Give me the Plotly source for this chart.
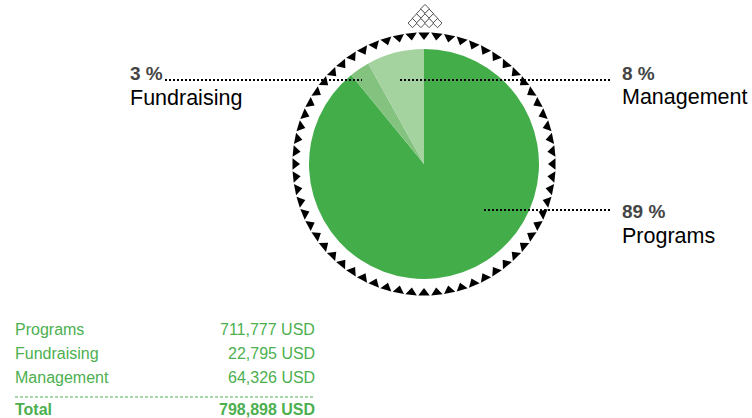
import math
import plotly.graph_objects as go

# ---- data ----
categories = ["Programs", "Fundraising", "Management"]
amounts = [711777, 22795, 64326]
slice_colors = ["#43ad4a", "#84c37f", "#a5d3a0"]
currency = "USD"

total = sum(amounts)
percents = [round(100 * v / total) for v in amounts]

# ---- layout constants (pixels) ----
W, H = 752, 418
CX, CY = 424, 164
PIE_R = 115
RING_R = 129
N_RING = 64

GREEN_TXT = "#4caf50"
BASE_FONT = "Liberation Sans, Arial, Helvetica, sans-serif"

fig = go.Figure()

# pie
fig.add_trace(go.Pie(
    labels=categories, values=amounts, sort=False, direction="clockwise",
    rotation=0, marker=dict(colors=slice_colors, line=dict(width=0)),
    textinfo="none", hoverinfo="label+value+percent", showlegend=False,
    domain=dict(x=[(CX - PIE_R) / W, (CX + PIE_R) / W],
                y=[1 - (CY + PIE_R) / H, 1 - (CY - PIE_R) / H]),
))

# decorative ring of inward-pointing triangles
rx, ry, ang = [], [], []
for i in range(N_RING):
    phi = 360.0 * i / N_RING
    t = math.radians(phi)
    rx.append(CX + RING_R * math.sin(t))
    ry.append(CY - RING_R * math.cos(t))
    ang.append(phi)
fig.add_trace(go.Scatter(
    x=rx, y=ry, mode="markers", hoverinfo="skip", showlegend=False,
    marker=dict(symbol="triangle-down", size=10, angle=ang, color="black",
                line=dict(width=0)),
))

# decorative diamond pyramid at top
dx, dy = [], []
for k in range(4):
    for j in range(k + 1):
        dx.append(CX + 1 + (j - k / 2) * 8.3)
        dy.append(9 + k * 4.7)
fig.add_trace(go.Scatter(
    x=dx, y=dy, mode="markers", hoverinfo="skip", showlegend=False,
    marker=dict(symbol="diamond", size=7, color="white",
                line=dict(width=1, color="#555555")),
))

# callout labels
callouts = {
    "Fundraising": dict(x=128, ypct=73, yname=98, ly=80, lx0=165, lx1=362),
    "Management": dict(x=620, ypct=73, yname=97, ly=80, lx0=400, lx1=612),
    "Programs": dict(x=620, ypct=211, yname=236, ly=210, lx0=484, lx1=612),
}

shapes = []
annotations = []
for cat, pct in zip(categories, percents):
    c = callouts[cat]
    shapes.append(dict(type="line", xref="x", yref="y", x0=c["lx0"], x1=c["lx1"],
                       y0=c["ly"], y1=c["ly"],
                       line=dict(color="black", width=2, dash="2px,2px")))
    annotations.append(dict(x=c["x"], y=c["ypct"], xref="x", yref="y",
                            text=f"<b>{pct} %</b>", showarrow=False,
                            xanchor="left", yanchor="middle",
                            font=dict(family=BASE_FONT, size=19, color="#454545")))
    annotations.append(dict(x=c["x"], y=c["yname"], xref="x", yref="y",
                            text=cat, showarrow=False,
                            xanchor="left", yanchor="middle",
                            font=dict(family=BASE_FONT, size=21.5, color="black")))

# table
TBL_X0, TBL_X1 = 13, 317
row_y = [329, 353, 377]
for cat, v, y in zip(categories, amounts, row_y):
    annotations.append(dict(x=TBL_X0, y=y, xref="x", yref="y", text=cat,
                            showarrow=False, xanchor="left", yanchor="middle",
                            font=dict(family=BASE_FONT, size=16, color=GREEN_TXT)))
    annotations.append(dict(x=TBL_X1, y=y, xref="x", yref="y",
                            text=f"{v:,} {currency}",
                            showarrow=False, xanchor="right", yanchor="middle",
                            font=dict(family=BASE_FONT, size=16, color=GREEN_TXT)))
shapes.append(dict(type="line", xref="x", yref="y", x0=15, x1=315,
                   y0=397, y1=397,
                   line=dict(color=GREEN_TXT, width=1, dash="3px,2px")))
annotations.append(dict(x=TBL_X0, y=409, xref="x", yref="y", text="<b>Total</b>",
                        showarrow=False, xanchor="left", yanchor="middle",
                        font=dict(family=BASE_FONT, size=16, color=GREEN_TXT)))
annotations.append(dict(x=TBL_X1, y=409, xref="x", yref="y",
                        text=f"<b>{total:,} {currency}</b>",
                        showarrow=False, xanchor="right", yanchor="middle",
                        font=dict(family=BASE_FONT, size=16, color=GREEN_TXT)))

fig.update_layout(
    width=W, height=H, margin=dict(l=0, r=0, t=0, b=0),
    paper_bgcolor="white", plot_bgcolor="rgba(0,0,0,0)",
    xaxis=dict(range=[0, W], visible=False, fixedrange=True),
    yaxis=dict(range=[H, 0], visible=False, fixedrange=True),
    shapes=shapes, annotations=annotations, showlegend=False,
)

fig.write_html("out.html", config={"displayModeBar": False})
